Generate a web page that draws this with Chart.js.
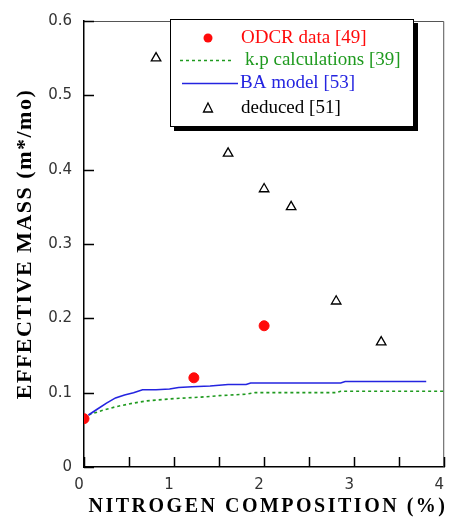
<!DOCTYPE html>
<html>
<head>
<meta charset="utf-8">
<script src="https://cdn.jsdelivr.net/npm/chart.js@4.4.1/dist/chart.umd.min.js"></script>
<style>
  html, body { margin: 0; padding: 0; background: #fff; overflow: hidden; }
  #wrap { width: 458px; height: 520px; }
</style>
</head>
<body>
<div id="wrap"><canvas id="massChart" width="458" height="520"></canvas></div>
<script>
// ODCR data [49]
var odcrX = [0, 1.22, 2.0];
var odcrY = [0.065, 0.12, 0.19];

// k.p calculations [39]
var kpX = [0.05, 0.2, 0.35, 0.55, 0.7, 1.0, 1.3, 1.5, 1.8, 1.9, 2.5, 2.8, 2.85, 3.5, 4.0];
var kpY = [0.07, 0.076, 0.081, 0.086, 0.089, 0.092, 0.094, 0.096, 0.098, 0.1, 0.1, 0.1, 0.102, 0.102, 0.102];

// BA model [53]
var baX = [0.05, 0.15, 0.25, 0.35, 0.45, 0.55, 0.65, 0.8, 0.95, 1.05, 1.2, 1.4, 1.6, 1.8, 1.85, 2.2, 2.6, 2.85, 2.9, 3.3, 3.8];
var baY = [0.07, 0.078, 0.086, 0.093, 0.097, 0.1, 0.104, 0.104, 0.105, 0.107, 0.108, 0.109, 0.111, 0.111, 0.113, 0.113, 0.113, 0.113, 0.115, 0.115, 0.115];

// deduced [51]
var dedX = [0.8, 1.6, 2.0, 2.3, 2.8, 3.3];
var dedY = [0.55, 0.422, 0.374, 0.35, 0.223, 0.168];

var xTicks = [0, 1, 2, 3, 4];
var xMinor = [0.5, 1.5, 2.5, 3.5];
var yTicks = [0, 0.1, 0.2, 0.3, 0.4, 0.5, 0.6];

function pts(xs, ys) {
  return xs.map(function (x, i) { return { x: x, y: ys[i] }; });
}

var RED = '#ff0a0a', GREEN = '#1f9a1f', BLUE = '#2424e0';

// inward tick marks + plot frame + axis titles
var frame = {
  id: 'frame',
  afterDraw: function (chart) {
    var c = chart.ctx, a = chart.chartArea;
    var sx = chart.scales.x, sy = chart.scales.y;
    c.save();
    c.strokeStyle = '#555';
    c.lineWidth = 1;
    c.beginPath();
    c.moveTo(a.left, a.top + 0.5);
    c.lineTo(a.right - 0.5, a.top + 0.5);
    c.lineTo(a.right - 0.5, a.bottom);
    c.stroke();
    c.strokeStyle = '#000';
    c.lineWidth = 1.5;
    c.beginPath();
    xTicks.concat(xMinor).forEach(function (v) {
      var px = Math.round(sx.getPixelForValue(v)) + 0.5;
      c.moveTo(px, a.bottom);
      c.lineTo(px, a.bottom - 10);
    });
    yTicks.forEach(function (v) {
      var py = Math.round(sy.getPixelForValue(v)) + 0.5;
      c.moveTo(a.left, py);
      c.lineTo(a.left + 10, py);
    });
    c.stroke();

    c.fillStyle = '#000';
    c.textAlign = 'center';
    c.textBaseline = 'middle';
    c.font = 'bold 20px "Liberation Serif"';
    c.letterSpacing = '2.5px';
    c.fillText('NITROGEN COMPOSITION (%)', 268, 507);
    c.translate(25, 244);
    c.rotate(-Math.PI / 2);
    c.font = 'bold 22px "Liberation Serif"';
    c.letterSpacing = '1.5px';
    c.fillText('EFFECTIVE MASS (m*/mo)', 0, 0);
    c.restore();
  }
};

// boxed legend with shadow inside the plot
var boxLegend = {
  id: 'boxLegend',
  afterDraw: function (chart) {
    var c = chart.ctx;
    var L = 170, T = 19, W = 243, H = 107;
    c.save();
    c.fillStyle = '#000';
    c.fillRect(L + 4, T + 4, W + 1, H + 1);
    c.fillStyle = '#fff';
    c.fillRect(L, T, W, H);
    c.strokeStyle = '#000';
    c.lineWidth = 1;
    c.strokeRect(L + 0.5, T + 0.5, W, H);

    var ds = chart.data.datasets;
    c.font = '19px "Liberation Serif"';
    c.textBaseline = 'middle';
    c.textAlign = 'left';

    // ODCR
    c.fillStyle = ds[2].backgroundColor;
    c.beginPath();
    c.arc(208, 38, 4.5, 0, Math.PI * 2);
    c.fill();
    c.fillText(ds[2].label, 241, 38);

    // k.p
    c.strokeStyle = ds[0].borderColor;
    c.lineWidth = 1.5;
    c.setLineDash(ds[0].borderDash);
    c.beginPath();
    c.moveTo(180, 60.5);
    c.lineTo(233, 60.5);
    c.stroke();
    c.setLineDash([]);
    c.fillStyle = ds[0].borderColor;
    c.fillText(ds[0].label, 245, 60);

    // BA
    c.strokeStyle = ds[1].borderColor;
    c.beginPath();
    c.moveTo(182, 83.5);
    c.lineTo(238, 83.5);
    c.stroke();
    c.fillStyle = ds[1].borderColor;
    c.fillText(ds[1].label, 240, 83);

    // deduced
    c.strokeStyle = '#000';
    c.lineWidth = 1.3;
    c.beginPath();
    c.moveTo(208, 103);
    c.lineTo(212.5, 112);
    c.lineTo(203.5, 112);
    c.closePath();
    c.stroke();
    c.fillStyle = '#000';
    c.fillText(ds[3].label, 241, 108);
    c.restore();
  }
};

var ctx = document.getElementById('massChart').getContext('2d');
var myChart = new Chart(ctx, {
  type: 'scatter',
  data: {
    datasets: [{
      label: 'k.p calculations [39]',
      data: pts(kpX, kpY),
      showLine: true,
      borderColor: GREEN,
      borderWidth: 1.6,
      borderDash: [3, 3],
      pointRadius: 0,
      order: 3
    }, {
      label: 'BA model [53]',
      data: pts(baX, baY),
      showLine: true,
      borderColor: BLUE,
      borderWidth: 1.6,
      pointRadius: 0,
      order: 2
    }, {
      label: 'ODCR data [49]',
      data: pts(odcrX, odcrY),
      backgroundColor: RED,
      borderColor: RED,
      pointRadius: 5,
      order: 1
    }, {
      label: 'deduced [51]',
      data: pts(dedX, dedY),
      pointStyle: 'triangle',
      backgroundColor: '#fff',
      borderColor: '#000',
      borderWidth: 1.3,
      pointRadius: 5.5,
      order: 0
    }]
  },
  options: {
    responsive: false,
    animation: false,
    layout: { padding: { top: 14, right: 9, left: 0, bottom: 0 } },
    plugins: { legend: { display: false }, tooltip: { enabled: false } },
    scales: {
      x: {
        type: 'linear',
        min: 0, max: 4,
        afterFit: function (s) { s.height = 53; },
        afterBuildTicks: function (s) { s.ticks = xTicks.map(function (v) { return { value: v }; }); },
        grid: { display: true, drawOnChartArea: false, drawTicks: false },
        border: { color: '#000', width: 1.5 },
        ticks: {
          padding: 9,
          labelOffset: -5,
          color: '#333',
          font: { family: 'DejaVu Sans', size: 15 },
          callback: function (v) { return String(v); }
        }
      },
      y: {
        type: 'linear',
        min: 0, max: 0.6,
        afterFit: function (s) { s.width = 84; },
        afterBuildTicks: function (s) { s.ticks = yTicks.map(function (v) { return { value: v }; }); },
        grid: { display: true, drawOnChartArea: false, drawTicks: false },
        border: { color: '#000', width: 1.5 },
        ticks: {
          padding: 12,
          color: '#333',
          font: { family: 'DejaVu Sans', size: 15 },
          callback: function (v) { return v === 0 ? '0' : v.toFixed(1); }
        }
      }
    }
  },
  plugins: [frame, boxLegend]
});
</script>
</body>
</html>
